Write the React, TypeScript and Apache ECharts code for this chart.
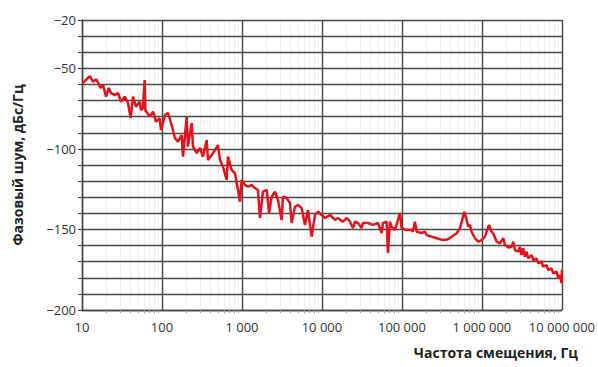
import React, { useEffect, useRef } from "react";
import * as echarts from "echarts";

// Offset frequency, Hz
const freqHz: number[] = [
  10, 12.5, 13.7, 15.1, 17.1, 18.3, 20, 21.6, 23, 25.6, 28.2, 30.7, 34.2, 37.6, 40.6, 43.4, 47.3, 52.6, 54.6, 57.5, 60.8, 62, 63.1, 70.2, 77.2, 84.1, 93.5, 97.2,
  109, 119, 132, 145, 158, 176, 183, 204, 211, 235, 244, 272, 299, 325, 362, 376, 418, 460, 501, 531, 579, 644, 668, 743, 818, 891, 944, 991,
  1090, 1190, 1320, 1450, 1580, 1680, 1830, 2040, 2180, 2350, 2590, 2820, 3130, 3250, 3620, 3980, 4180, 4600, 5010, 5570, 6130, 6680, 7430, 8180, 8910, 9910,
  10900, 12600, 14500, 15800, 18300, 20400, 22400, 24400, 25900, 28200, 31300, 32500, 37600, 43400, 50100, 55700, 57900, 64400, 66800, 70800, 74300, 81800, 94400, 99100,
  114500, 132000, 137000, 145000, 153000, 176000, 194000, 204000, 235000, 272000, 325000, 376000, 418000, 483000, 531000, 574000, 601000, 644000, 675000, 708000, 743000, 818000, 899000, 991000,
  1090000, 1160000, 1230000, 1320000, 1380000, 1530000, 1680000, 1850000, 1940000, 2130000, 2350000, 2460000, 2590000, 2840000, 2990000, 3130000, 3280000, 3450000, 3620000, 3790000,
  4180000, 4380000, 4830000, 5060000, 5570000, 5830000, 6440000, 6750000, 7430000, 7780000, 8590000, 8990000, 9440000, 9910000, 10000000,
];

// Phase noise, dBc/Hz
const phaseNoise: number[] = [
  -59.7, -54.8, -58.3, -56.8, -62.2, -60.3, -67.6, -62.2, -65.3, -66.6, -65.3, -70.7, -67.6, -71.5, -80.8, -67.6, -73.8, -70.7, -75.9, -75, -57.2, -76, -75.9, -80, -76.9, -83.1, -81, -88.3,
  -79, -77.7, -85.2, -93.2, -95.5, -91.4, -104.8, -80, -98.6, -83.9, -98.6, -102.6, -99.4, -104.8, -94.5, -106.9, -103.8, -100.7, -97.6, -106.9, -111.1, -119.3, -104.8, -113.1, -115, -125.5, -132.8, -119.3,
  -122.4, -123.5, -122.4, -124.3, -125.5, -142.9, -126.6, -125.5, -139.8, -129.7, -126.6, -131.7, -144.1, -129.7, -130.5, -133.6, -146, -135.9, -134.8, -136.7, -147.2, -137.9, -154.5, -141, -139, -141,
  -142.9, -141, -144.1, -142.9, -145.2, -142.9, -145.2, -149.1, -145.2, -146, -149.1, -146, -146, -147.2, -146, -152.2, -146, -145.2, -164.6, -145.2, -148.3, -150.4, -139.8, -149.1,
  -150.4, -150.4, -151.4, -145.2, -151.4, -152.2, -151.4, -153.5, -154.5, -155.5, -156.6, -156.1, -154.5, -152.4, -149.3, -143.1, -139, -144.1, -148.3, -147.2, -151.4, -155.5, -157.6, -156.6,
  -154.5, -150.4, -147.2, -151.4, -152.4, -157.6, -158.6, -155.5, -159.7, -161.2, -160.7, -157.6, -162.8, -163.8, -160.7, -165.9, -161.7, -166.9, -163.8, -167.9,
  -165.9, -169, -167.9, -171, -170, -173.1, -172.1, -175.2, -174.1, -177.2, -176.2, -180.3, -178.3, -183.4, -175,
];

const yLabelValues: number[] = [-20, -50, -100, -150, -200];
const xLabelText: Record<string, string> = {
  "10": "10",
  "100": "100",
  "1000": "1 000",
  "10000": "10 000",
  "100000": "100 000",
  "1000000": "1 000 000",
  "10000000": "10 000 000",
};

const yAxisTitle = "Фазовый шум, дБс/Гц";
const xAxisTitle = "Частота смещения, Гц";

export default function App() {
  const ref = useRef<HTMLDivElement>(null);

  useEffect(() => {
    if (!ref.current) return;
    const chart = echarts.init(ref.current, undefined, { renderer: "svg" });
    const font = "'Open Sans', 'Noto Sans', sans-serif";
    chart.setOption({
      animation: false,
      backgroundColor: "#ffffff",
      grid: { left: 82, top: 20, right: 36, bottom: 57, containLabel: false },
      xAxis: {
        type: "log",
        logBase: 10,
        min: 10,
        max: 10000000,
        axisLine: { show: true, lineStyle: { color: "#444", width: 1.4 } },
        axisTick: { show: false },
        minorTick: { show: true, splitNumber: 9, length: 3, lineStyle: { color: "#999" } },
        splitLine: { show: true, lineStyle: { color: "#444", width: 1.4 } },
        minorSplitLine: { show: true, lineStyle: { color: "rgba(0,0,0,0.06)", width: 1 } },
        axisLabel: {
          color: "#333",
          fontFamily: font,
          fontSize: 13,
          margin: 10,
          formatter: (v: number) => xLabelText[String(Math.round(v))] ?? "",
        },
      },
      yAxis: {
        type: "value",
        min: -200,
        max: -20,
        interval: 10,
        name: yAxisTitle,
        nameLocation: "middle",
        nameGap: 58,
        nameTextStyle: { color: "#222", fontFamily: font, fontSize: 14, fontWeight: "bold" },
        axisLine: { show: true, lineStyle: { color: "#444", width: 1.4 } },
        axisTick: { show: true, length: 4, inside: false, lineStyle: { color: "#444" } },
        splitLine: { show: true, lineStyle: { color: "#4a4a4a", width: 1.4 } },
        axisLabel: {
          color: "#333",
          fontFamily: font,
          fontSize: 13,
          margin: 6,
          formatter: (v: number) => (yLabelValues.includes(v) ? "\u2212" + Math.abs(v) : ""),
        },
      },
      graphic: [
        {
          type: "text",
          right: 20,
          top: 345,
          style: {
            text: xAxisTitle,
            fill: "#222",
            font: `bold 14px ${font}`,
          },
        },
      ],
      series: [
        {
          type: "line",
          data: freqHz.map((f, i) => [f, phaseNoise[i]]),
          showSymbol: false,
          symbol: "none",
          lineStyle: { color: "#e5121c", width: 2.5 },
        },
      ],
    });
    return () => chart.dispose();
  }, []);

  return (
    <div
      ref={ref}
      style={{ position: "fixed", left: 0, top: 0, width: 598, height: 367 }}
    />
  );
}
